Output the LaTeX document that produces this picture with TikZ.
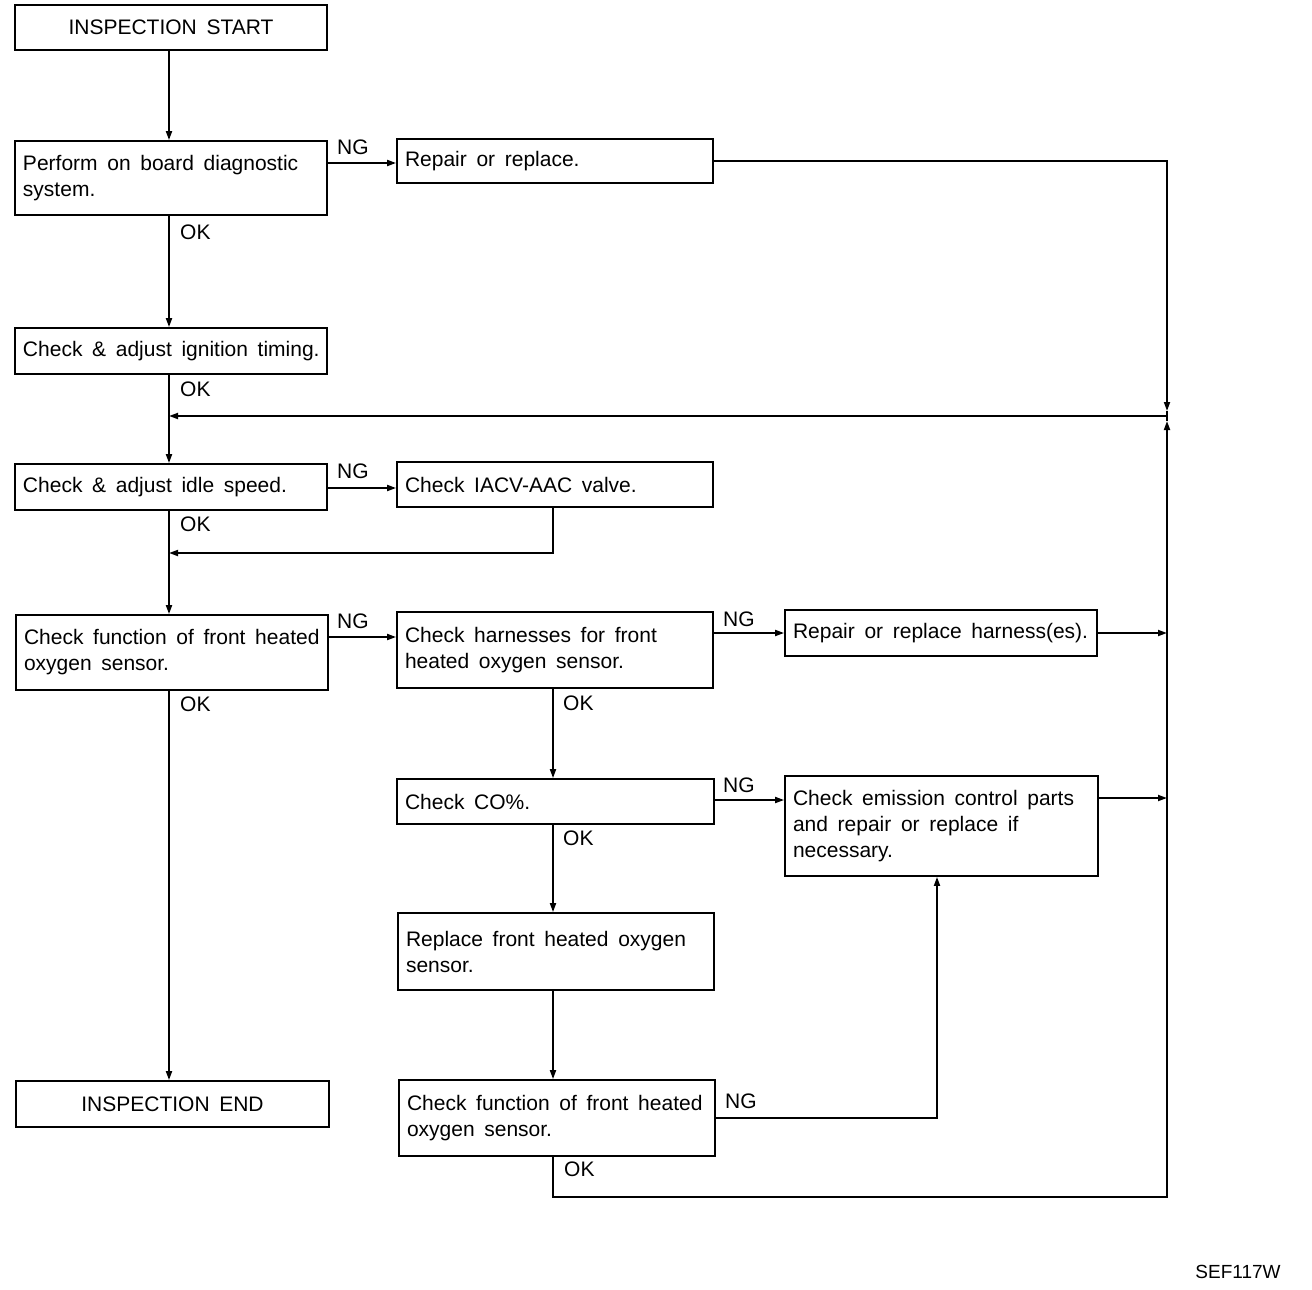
\documentclass[tikz,border=0pt]{standalone}
\usepackage{fontspec}
\setmainfont{Liberation Sans}
\usetikzlibrary{arrows.meta,calc}
\newcommand{\boxfont}{\fontsize{21}{26}\selectfont}
\begin{document}
\begin{tikzpicture}[x=1pt,y=-1pt,
  box/.style={draw,line width=1.8pt,rectangle,inner xsep=8pt,inner ysep=0pt,align=left,font=\boxfont,
    execute at begin node={\spaceskip=0.46em\relax\xspaceskip=0.46em\relax\hyphenpenalty=10000\relax}},
  lbl/.style={font=\fontsize{21}{24}\selectfont,inner sep=0pt,anchor=west},
  conn/.style={line width=1.8pt},
  arr/.style={conn,-{Triangle[length=9pt,width=6pt]}}]
\useasboundingbox (0,0) rectangle (1312,1290);

% boxes
\node[box,align=center,text width=296pt,minimum height=45pt] (b1) at (171,27.5) {INSPECTION START};
\node[box,text width=296pt,minimum height=74pt] (b2) at (171,178) {Perform on board diagnostic\\system.};
\node[box,text width=300pt,minimum height=44pt] (b3) at (555,161) {Repair or replace.};
\node[box,text width=296pt,minimum height=46pt] (b4) at (171,351) {\mbox{Check \& adjust ignition timing.}};
\node[box,text width=296pt,minimum height=46pt] (b5) at (171,487) {Check \& adjust idle speed.};
\node[box,text width=300pt,minimum height=45pt] (b6) at (555,484.5) {Check IACV-AAC valve.};
\node[box,text width=296pt,minimum height=75pt] (b7) at (172,652.5) {Check function of front heated\\oxygen sensor.};
\node[box,text width=300pt,minimum height=76pt] (b8) at (555,650) {Check harnesses for front\\heated oxygen sensor.};
\node[box,text width=296pt,minimum height=46pt] (b9) at (941,633) {Repair or replace harness(es).};
\node[box,text width=301pt,minimum height=45pt] (b10) at (555.5,801.5) {Check CO\%.};
\node[box,text width=297pt,minimum height=100pt] (b11) at (941.5,826) {Check emission control parts\\and repair or replace if\\necessary.};
\node[box,text width=300pt,minimum height=77pt] (b12) at (556,951.5) {Replace front heated oxygen\\sensor.};
\node[box,align=center,text width=297pt,minimum height=46pt] (b13) at (172.5,1104) {INSPECTION END};
\node[box,text width=300pt,minimum height=76pt] (b14) at (557,1118) {Check function of front heated\\oxygen sensor.};

% helper coordinates
\coordinate (mx) at (169,0);
\coordinate (cx) at (553,0);
\coordinate (ex) at (937,0);
\coordinate (rj) at (1167,416);
\coordinate (rj1) at (1167,411);
\coordinate (rj2) at (1167,421);
\coordinate (rb) at (1167,1197);
\coordinate (j2) at (169,553);
\coordinate (y2) at (0,163);
\coordinate (y5) at (0,488);
\coordinate (y7) at (0,637);
\coordinate (y10) at (0,800);
\coordinate (y11) at (0,798);

% connectors
\draw[arr] (b1.south -| mx) -- (b2.north -| mx);
\draw[arr] (b2.east |- y2) -- (b3.west |- y2);
\draw[arr] (b3.east) -| (rj1);
\draw[arr] (b14.south -| cx) |- (rb) -- (rj2);
\draw[conn] (rj1) -- (rj2);
\draw[arr] (rj) -- (rj -| mx);
\draw[arr] (b2.south -| mx) -- (b4.north -| mx);
\draw[arr] (b4.south -| mx) -- (b5.north -| mx);
\draw[arr] (b5.east |- y5) -- (b6.west |- y5);
\draw[arr] (b6.south -| cx) |- (j2);
\draw[arr] (b5.south -| mx) -- (b7.north -| mx);
\draw[arr] (b7.east |- y7) -- (b8.west |- y7);
\draw[arr] (b8.east |- b9.west) -- (b9.west);
\draw[arr] (b9.east) -- (b9.east -| rb);
\draw[arr] (b8.south -| cx) -- (b10.north -| cx);
\draw[arr] (b10.east |- y10) -- (b11.west |- y10);
\draw[arr] (b11.east |- y11) -- (rb |- y11);
\draw[arr] (b10.south -| cx) -- (b12.north -| cx);
\draw[arr] (b12.south -| cx) -- (b14.north -| cx);
\draw[arr] (b14.east) -| (b11.south -| ex);
\draw[arr] (b7.south -| mx) -- (b13.north -| mx);

% labels
\node[lbl] (ng1) at (337,147) {NG};
\node[lbl] (ok1) at (180,232) {OK};
\node[lbl] (ok2) at (180,389) {OK};
\node[lbl] (ng2) at (337,471) {NG};
\node[lbl] (ok3) at (180,524) {OK};
\node[lbl] (ng3) at (337,621) {NG};
\node[lbl] (ok4) at (180,704) {OK};
\node[lbl] (ng4) at (723,619) {NG};
\node[lbl] (ok5) at (563,703) {OK};
\node[lbl] (ng5) at (723,785) {NG};
\node[lbl] (ok6) at (563,838) {OK};
\node[lbl] (ng6) at (725,1101) {NG};
\node[lbl] (ok7) at (564,1169) {OK};
\node[font=\fontsize{19}{22}\selectfont,inner sep=0pt] (ref) at (1238,1272) {SEF117W};
\end{tikzpicture}
\end{document}
